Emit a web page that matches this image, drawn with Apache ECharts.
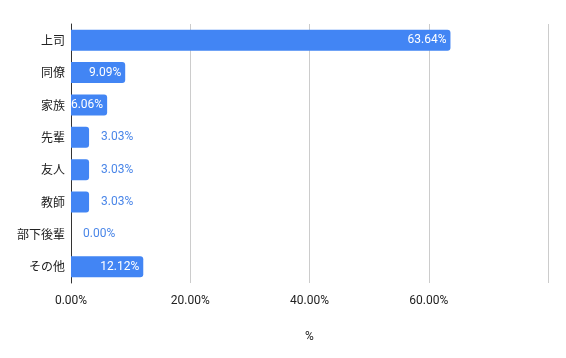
<!DOCTYPE html>
<html><head><meta charset="utf-8">
<script src="https://cdn.jsdelivr.net/npm/echarts@6/dist/echarts.min.js"></script>
<style>html,body{margin:0;padding:0;background:#fff}#c{width:566px;height:358px}</style>
</head><body><div id="c"></div>
<script>
const categories = ['上司','同僚','家族','先輩','友人','教師','部下後輩','その他'];
const values = [63.64, 9.09, 6.06, 3.03, 3.03, 3.03, 0.00, 12.12];
const xTicks = [0, 20, 40, 60, 80];

const chart = echarts.init(document.getElementById('c'));
const data = values.map(v => ({
  value: v,
  label: v >= 6
    ? {position: 'insideRight', color: '#ffffff', distance: 4}
    : {position: 'right', color: '#4a86e8', distance: 12}
}));
chart.setOption({
  animation: false,
  textStyle: {fontFamily: 'Roboto, "Noto Sans CJK JP", sans-serif'},
  grid: {left: 71, right: 18, top: 24, bottom: 75, containLabel: false},
  xAxis: {
    type: 'value', min: xTicks[0], max: xTicks[xTicks.length-1], interval: 20,
    name: '%', nameLocation: 'middle', nameGap: 48,
    nameTextStyle: {color: '#222', fontSize: 12},
    axisLine: {show: false}, axisTick: {show: false},
    splitLine: {lineStyle: {color: '#cccccc'}},
    axisLabel: {color: '#222', fontSize: 12, margin: 12, showMaxLabel: false,
      formatter: v => v.toFixed(2) + '%'}
  },
  yAxis: {
    type: 'category', data: categories, inverse: true,
    axisLine: {show: true, lineStyle: {color: '#333', width: 1}},
    axisTick: {show: false},
    axisLabel: {color: '#222', fontSize: 12, margin: 6,
      fontFamily: '"Noto Sans CJK JP", sans-serif'}
  },
  series: [{
    type: 'bar', data: data, barWidth: 21,
    itemStyle: {color: '#4285f4', borderRadius: [0, 3, 3, 0]},
    label: {show: true, fontSize: 12, formatter: p => p.value.toFixed(2) + '%'}
  }]
});
</script></body></html>
